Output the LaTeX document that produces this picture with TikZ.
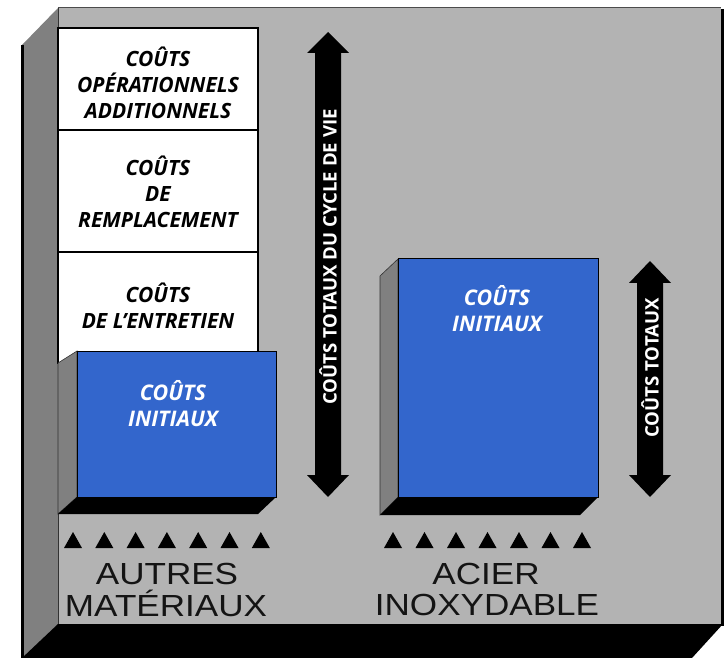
\documentclass[tikz,border=0pt]{standalone}
\usepackage{fontspec}
\setmainfont{Open Sans}
\newfontfamily\lblfont{Liberation Sans}
\definecolor{panelgray}{HTML}{B3B3B3}
\definecolor{wallgray}{HTML}{808080}
\definecolor{costblue}{HTML}{3366CC}
\begin{document}
\begin{tikzpicture}[x=1pt,y=-1pt,
  whitebox/.style={draw=black, line width=1.2pt, fill=white},
  bluebox/.style={draw=black, line width=1pt, fill=costblue},
  sidewall/.style={draw=black!80, line width=0.6pt, fill=wallgray},
  btext/.style={font=\fontsize{21}{25.7}\selectfont\bfseries\itshape, align=center, text=black, inner sep=0pt},
  wtext/.style={font=\fontsize{21.5}{26}\selectfont\bfseries\itshape, align=center, text=white, inner sep=0pt},
  atext/.style={font=\fontsize{18.6}{18}\selectfont\bfseries, text=white, rotate=90, inner sep=0pt},
  mat/.style={font=\lblfont\fontsize{30.5}{32}\selectfont, xscale=1.15, text=black!92, inner sep=0pt, anchor=base},
  tri/.style={fill=black},
  bigarrow/.style={fill=black},
]
\useasboundingbox (0,0) rectangle (724,658);
% back panel
\fill[panelgray] (58,8) rectangle (721,624);
\draw[black!70, line width=1pt] (58,8) -- (721,8);
\fill[black] (721,9) rectangle (724,626);
% left wall
\fill[wallgray] (22,45) -- (58,8) -- (58,658) -- (22,658) -- cycle;
\draw[black, line width=3pt] (22.3,45) -- (22.3,658);
\draw[black!80, line width=0.8pt] (58,8) -- (58,624);
% floor
\fill[black] (58,624) -- (723,624) -- (692,658) -- (22,658) -- cycle;

% white stacked boxes
\draw[whitebox] (58,28) rectangle (258,130);
\draw[whitebox] (58,130) rectangle (258,252);
\draw[whitebox] (58,252) rectangle (258,363);
\node[btext] (op) at (158,83) {COÛTS\\OPÉRATIONNELS\\ADDITIONNELS};
\node[btext] (rep) at (158,192) {COÛTS\\DE\\REMPLACEMENT};
\node[btext] (ent) at (158,306) {COÛTS\\DE L’ENTRETIEN};

% blue box 1
\draw[sidewall] (58,363) -- (77,351) -- (77,497) -- (58,514) -- cycle;
\fill[black] (77,497) -- (276,497) -- (258,514) -- (58,514) -- cycle;
\draw[bluebox] (77,351) rectangle (276,497);
\node[wtext] (ini1) at (173,404) {COÛTS\\INITIAUX};

% blue box 2
\draw[sidewall] (380,276) -- (398,259) -- (398,497) -- (380,515) -- cycle;
\fill[black] (398,497) -- (598,497) -- (580,515) -- (380,515) -- cycle;
\draw[bluebox] (398,259) rectangle (598,497);
\node[wtext] (ini2) at (497,309) {COÛTS\\INITIAUX};

% arrow 1
\fill[bigarrow] (328,32) -- (349,53) -- (341,53) -- (341,475) -- (349,475) -- (328,497)
  -- (307,475) -- (315,475) -- (315,53) -- (307,53) -- cycle;
\node[atext] (life) at (328,257) {COÛTS TOTAUX DU CYCLE DE VIE};

% arrow 2
\fill[bigarrow] (650,261) -- (671,283) -- (663,283) -- (663,475) -- (671,475) -- (650,497)
  -- (629,475) -- (637,475) -- (637,283) -- (629,283) -- cycle;
\node[atext] (tot) at (650,368) {COÛTS TOTAUX};

% triangles
\foreach \i in {0,...,6} {
  \fill[tri] ({73+31.3*\i-9},548) -- ({73+31.3*\i+9},548) -- ({73+31.3*\i},532) -- cycle;
  \fill[tri] ({393+31.5*\i-9},548) -- ({393+31.5*\i+9},548) -- ({393+31.5*\i},532) -- cycle;
}

% labels
\node[mat] (au) at (167,584) {AUTRES};
\node[mat] (ma) at (166,616) {MATÉRIAUX};
\node[mat] (ac) at (486,584) {ACIER};
\node[mat] (in) at (487,615) {INOXYDABLE};
\end{tikzpicture}
\end{document}
